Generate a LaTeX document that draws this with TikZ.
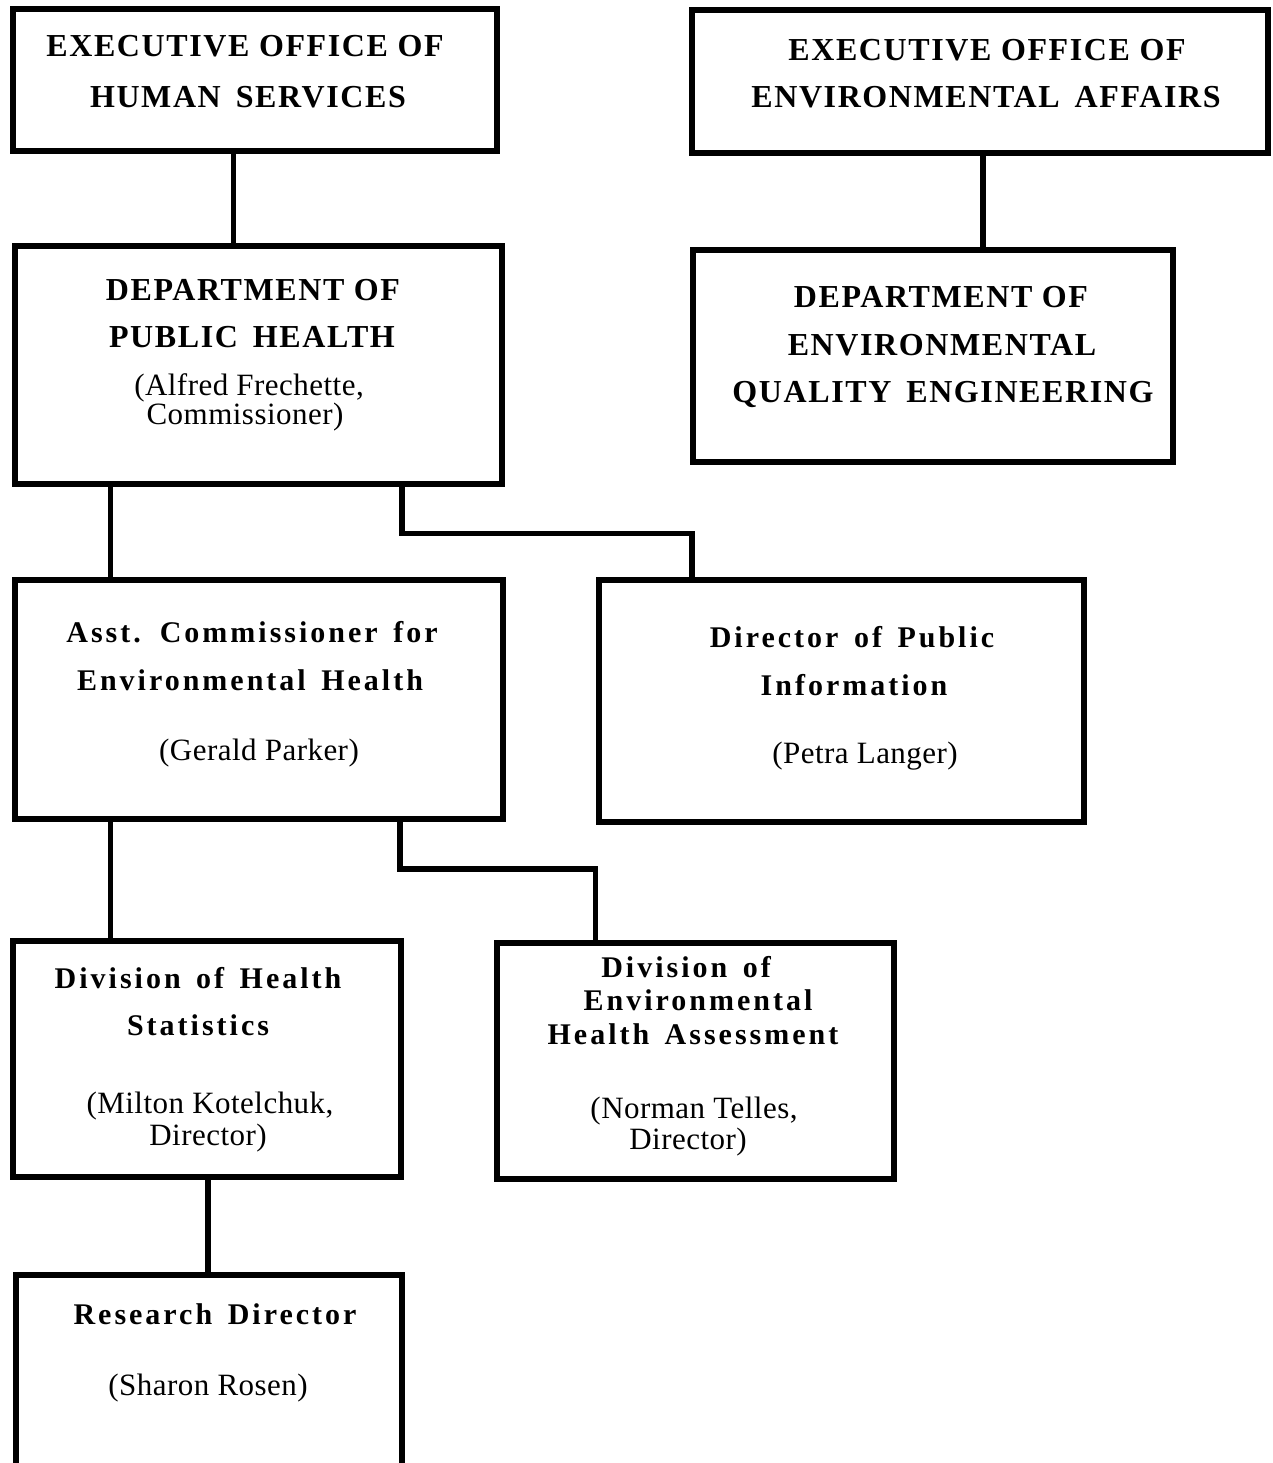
\documentclass[tikz,border=0pt]{standalone}
\usepackage{fontspec}
\setmainfont{Liberation Serif}
\newfontfamily\capsfont{Liberation Serif}[LetterSpace=5]
\newfontfamily\lcfont{Liberation Serif}[LetterSpace=10]
\newfontfamily\nmfont{Liberation Serif}[LetterSpace=1.5]
\begin{document}
\begin{tikzpicture}[x=1pt,y=-1pt,
  box/.style={draw, line width=5.5pt, rectangle, inner sep=0pt, outer sep=0pt},
  link/.style={line width=5.5pt},
  captext/.style={anchor=base, inner sep=0pt, font=\capsfont\bfseries\fontsize{32}{32}\selectfont},
  lctext/.style={anchor=base, inner sep=0pt, font=\lcfont\bfseries\fontsize{30}{30}\selectfont},
  nametext/.style={anchor=base, inner sep=0pt, font=\nmfont\fontsize{31}{31}\selectfont}]
\fill[white] (0,0) rectangle (1273,1463);
\useasboundingbox (0,0) rectangle (1273,1463);
\clip (0,0) rectangle (1273,1463);

% boxes
\node[box, minimum width=484pt, minimum height=142pt] (b1) at (255,80) {};
\node[box, minimum width=576pt, minimum height=143pt] (b2) at (980,81.5) {};
\node[box, minimum width=487pt, minimum height=238pt] (b3) at (258.5,365) {};
\node[box, minimum width=480pt, minimum height=212pt] (b4) at (933,356) {};
\node[box, minimum width=488pt, minimum height=239pt] (b5) at (259,699.5) {};
\node[box, minimum width=485pt, minimum height=242pt] (b6) at (841.5,701) {};
\node[box, minimum width=388pt, minimum height=236pt] (b7) at (207,1059) {};
\node[box, minimum width=397pt, minimum height=236pt] (b8) at (695.5,1061) {};
\node[box, minimum width=386pt, minimum height=215pt] (b9) at (209,1382.5) {};

% connectors
\coordinate (k1) at (233.5,0);
\coordinate (k2) at (983,0);
\coordinate (k3) at (110.5,0);
\coordinate (k4) at (402,0);
\coordinate (e1) at (692,533.5);
\coordinate (k5) at (400,0);
\coordinate (e2) at (595.5,869);
\coordinate (k6) at (208,0);
\draw[link] (b1.south -| k1) -- (b3.north -| k1);
\draw[link] (b2.south -| k2) -- (b4.north -| k2);
\draw[link] (b3.south -| k3) -- (b5.north -| k3);
\draw[link] (b3.south -| k4) |- (e1) -- (b6.north -| e1);
\draw[link] (b5.south -| k3) -- (b7.north -| k3);
\draw[link] (b5.south -| k5) |- (e2) -- (b8.north -| e2);
\draw[link] (b7.south -| k6) -- (b9.north -| k6);

% texts
\node[captext] (t1a) at (245,57) {EXECUTIVE OFFICE OF};
\node[captext] (t1b) at (248,108) {HUMAN\, SERVICES};
\node[captext] (t2a) at (987,61) {EXECUTIVE OFFICE OF};
\node[captext] (t2b) at (986,108) {ENVIRONMENTAL\, AFFAIRS};
\node[captext] (t3a) at (253,300) {DEPARTMENT OF};
\node[captext] (t3b) at (252,347) {PUBLIC\, HEALTH};
\node[nametext] (t3c) at (249,395) {(Alfred Frechette,};
\node[nametext] (t3d) at (245,424) {Commissioner)};
\node[captext] (t4a) at (941,307) {DEPARTMENT OF};
\node[captext] (t4b) at (942,355) {ENVIRONMENTAL};
\node[captext] (t4c) at (943,402) {QUALITY\, ENGINEERING};
\node[lctext] (t5a) at (252,642) {Asst.\, Commissioner\, for};
\node[lctext] (t5b) at (250,690) {Environmental\, Health};
\node[nametext] (t5c) at (259,760) {(Gerald Parker)};
\node[lctext] (t6a) at (852,647) {Director\, of\, Public};
\node[lctext] (t6b) at (854,695) {Information};
\node[nametext] (t6c) at (865,763) {(Petra Langer)};
\node[lctext] (t7a) at (198,988) {Division\, of\, Health};
\node[lctext] (t7b) at (198,1035) {Statistics};
\node[nametext] (t7c) at (210,1113) {(Milton Kotelchuk,};
\node[nametext] (t7d) at (208,1145) {Director)};
\node[lctext] (t8a) at (686,977) {Division\, of};
\node[lctext] (t8b) at (698,1010) {Environmental};
\node[lctext] (t8c) at (693,1044) {Health\, Assessment};
\node[nametext] (t8d) at (694,1118) {(Norman Telles,};
\node[nametext] (t8e) at (688,1149) {Director)};
\node[lctext] (t9a) at (215,1324) {Research\, Director};
\node[nametext] (t9b) at (208,1395) {(Sharon Rosen)};
\end{tikzpicture}
\end{document}
